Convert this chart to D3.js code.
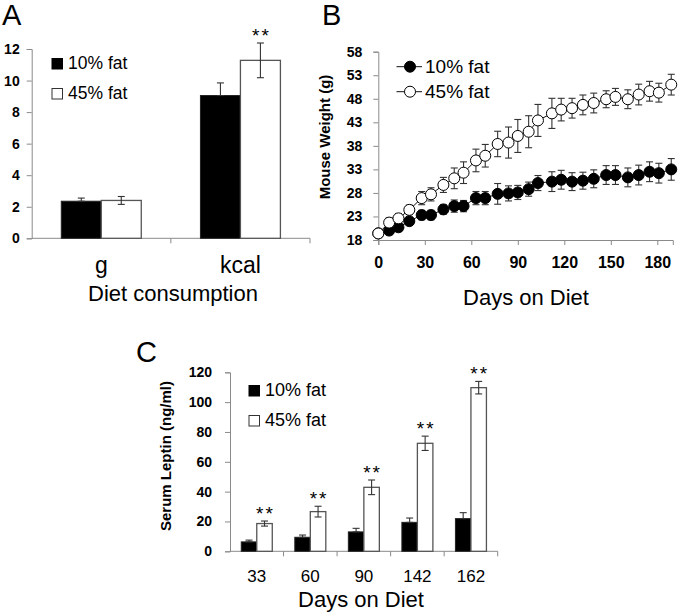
<!DOCTYPE html>
<html>
<head>
<meta charset="utf-8">
<script src="https://cdn.jsdelivr.net/npm/d3@7"></script>
<style>
  html, body { margin: 0; padding: 0; background: #fff; }
  svg { display: block; }
  text { font-family: "Liberation Sans", Arial, sans-serif; fill: #000; }
</style>
</head>
<body>
<svg id="chart" width="679" height="616"></svg>
<script>
// ---------- Data ----------
const seriesNames = ["10% fat", "45% fat"];

// Panel A
const categoriesA = ["g", "kcal"];
const consumption10 = [2.35, 9.05];
const consumption10Err = [0.2, 0.8];
const consumption45 = [2.4, 11.28];
const consumption45Err = [0.25, 1.1];
const significanceA = ["", "**"];
const ticksA = [0, 2, 4, 6, 8, 10, 12];

// Panel B
const daysB = [0, 7, 13, 20, 28, 34, 42, 49, 55, 63, 69, 77, 84, 90, 97, 103, 112, 118, 125, 132, 139, 147, 153, 161, 168, 175, 181, 189];
const weight10 = [19.4, 20.0, 20.7, 22.0, 23.3, 23.3, 24.5, 25.2, 25.2, 26.9, 26.9, 27.8, 27.9, 28.1, 28.8, 30.1, 30.4, 30.8, 30.4, 30.6, 31.0, 31.8, 31.8, 31.3, 31.8, 32.5, 32.2, 33.0];
const weight10Err = [0.3, 0.6, 0.6, 0.8, 1.0, 1.0, 1.0, 1.3, 1.2, 1.4, 1.4, 2.2, 1.6, 1.5, 1.5, 1.6, 2.1, 2.0, 1.9, 1.8, 1.9, 2.0, 2.0, 2.0, 2.1, 2.1, 2.1, 2.3];
const weight45 = [19.4, 21.7, 22.6, 24.4, 26.9, 27.7, 29.7, 31.1, 32.3, 34.9, 35.9, 38.4, 38.7, 40.1, 41.0, 43.4, 44.9, 45.7, 46.0, 46.7, 47.1, 47.9, 48.4, 47.9, 48.9, 49.6, 49.3, 51.0];
const weight45Err = [0.3, 1.0, 1.0, 1.0, 1.4, 1.4, 1.6, 2.2, 2.3, 2.4, 2.4, 2.7, 3.3, 3.5, 3.4, 3.4, 3.2, 2.4, 2.1, 2.1, 2.1, 1.8, 1.8, 2.0, 2.2, 2.1, 2.0, 2.2];
const ticksBx = [0, 30, 60, 90, 120, 150, 180];
const ticksBy = [18, 23, 28, 33, 38, 43, 48, 53, 58];

// Panel C
const categoriesC = ["33", "60", "90", "142", "162"];
const leptin10 = [6.3, 9.4, 13.0, 19.4, 21.9];
const leptin10Err = [1.2, 1.5, 2.4, 2.9, 4.0];
const leptin45 = [18.6, 26.6, 42.9, 72.4, 109.7];
const leptin45Err = [1.7, 3.6, 4.9, 4.8, 4.2];
const significanceC = ["**", "**", "**", "**", "**"];
const ticksC = [0, 20, 40, 60, 80, 100, 120];

// ---------- Styles ----------
const AXIS = "#8a8a8a";
const ERR = "#333";
const svg = d3.select("#chart");

function styleAxis(g) {
  g.select(".domain").attr("stroke", AXIS).attr("stroke-width", 1);
  g.selectAll(".tick line").attr("stroke", AXIS);
  g.selectAll(".tick text").attr("fill", "#000");
}

function errBar(g, x, yTop, yBot, half) {
  g.append("line").attr("x1", x).attr("x2", x).attr("y1", yTop).attr("y2", yBot)
    .attr("stroke", ERR).attr("stroke-width", 1.1);
  g.append("line").attr("x1", x - half).attr("x2", x + half).attr("y1", yTop).attr("y2", yTop)
    .attr("stroke", ERR).attr("stroke-width", 1.1);
  g.append("line").attr("x1", x - half).attr("x2", x + half).attr("y1", yBot).attr("y2", yBot)
    .attr("stroke", ERR).attr("stroke-width", 1.1);
}

function barPanel(opts) {
  const { cats, v10, e10, v45, e45, sig, ticks, yDomain, xRange, yRange, innerPad, catFont, legend } = opts;
  const g = svg.append("g");
  const x0 = d3.scaleBand().domain(cats).range(xRange).padding(0);
  const x1 = d3.scaleBand().domain(seriesNames).range([0, x0.bandwidth()]).paddingInner(0).paddingOuter(innerPad);
  const y = d3.scaleLinear().domain(yDomain).range(yRange);

  // axes
  const yAxis = g.append("g").attr("transform", `translate(${xRange[0]},0)`)
    .call(d3.axisLeft(y).tickValues(ticks).tickSizeOuter(0).tickSize(5).tickPadding(opts.yPad));
  yAxis.selectAll(".tick text").style("font-size", "14px").style("font-weight", "bold");
  styleAxis(yAxis);

  const xAxisG = g.append("g").attr("transform", `translate(0,${yRange[0]})`);
  xAxisG.append("line").attr("x1", xRange[0]).attr("x2", xRange[1]).attr("y1", 0).attr("y2", 0).attr("stroke", AXIS);
  const boundaries = cats.map(c => x0(c)).concat([xRange[1]]);
  xAxisG.selectAll("line.b").data(boundaries.slice(1)).enter().append("line")
    .attr("x1", d => d).attr("x2", d => d).attr("y1", 0).attr("y2", 5).attr("stroke", AXIS);
  xAxisG.selectAll("text.cat").data(cats).enter().append("text")
    .attr("x", d => x0(d) + x0.bandwidth() / 2).attr("y", opts.catY - yRange[0])
    .attr("text-anchor", "middle").style("font-size", catFont).text(d => d);

  const rows = cats.map((c, i) => ({ c, i }));
  const bw = x1.bandwidth();
  // bars
  rows.forEach(({ c, i }) => {
    g.append("rect").attr("x", x0(c) + x1(seriesNames[0])).attr("y", y(v10[i]))
      .attr("width", bw).attr("height", y(0) - y(v10[i]))
      .attr("fill", "#000").attr("stroke", "#222").attr("stroke-width", 1);
    g.append("rect").attr("x", x0(c) + x1(seriesNames[1])).attr("y", y(v45[i]))
      .attr("width", bw).attr("height", y(0) - y(v45[i]))
      .attr("fill", "#fff").attr("stroke", "#555").attr("stroke-width", 1.3);
  });
  // error bars
  rows.forEach(({ c, i }) => {
    const cx1 = x0(c) + x1(seriesNames[0]) + bw / 2;
    const cx2 = x0(c) + x1(seriesNames[1]) + bw / 2;
    errBar(g, cx1, y(v10[i] + e10[i]), y(v10[i]), 3.5);
    errBar(g, cx2, y(v45[i] + e45[i]), y(v45[i] - e45[i]), 3.5);
    if (sig[i]) {
      g.append("text").attr("x", cx2 + 1).attr("y", y(v45[i] + e45[i]) - 1)
        .attr("text-anchor", "middle").style("font-size", "19px").style("letter-spacing", "2px")
        .attr("fill", "#333").text(sig[i]);
    }
  });
  // legend
  legend.forEach((L, k) => {
    g.append("rect").attr("x", L.x).attr("y", L.y - 10.5).attr("width", 10.5).attr("height", 10.5)
      .attr("fill", k === 0 ? "#000" : "#fff").attr("stroke", k === 0 ? "#000" : "#333").attr("stroke-width", 1);
    g.append("text").attr("x", L.x + 16).attr("y", L.y).style("font-size", L.size).text(seriesNames[k]);
  });
  return g;
}

// ---------- Panel A ----------
barPanel({
  cats: categoriesA, v10: consumption10, e10: consumption10Err, v45: consumption45, e45: consumption45Err,
  sig: significanceA, ticks: ticksA, yDomain: [0, 12], xRange: [31.7, 310], yRange: [238.3, 49],
  innerPad: 0.74, catFont: "23px", catY: 273, yPad: 7,
  legend: [{ x: 52, y: 69, size: "17.5px" }, { x: 52, y: 99, size: "17.5px" }]
});
svg.append("text").attr("x", 173).attr("y", 301).attr("text-anchor", "middle").style("font-size", "22px").text("Diet consumption");
svg.append("text").attr("x", 2).attr("y", 25).style("font-size", "29px").text("A");

// ---------- Panel C ----------
barPanel({
  cats: categoriesC, v10: leptin10, e10: leptin10Err, v45: leptin45, e45: leptin45Err,
  sig: significanceC, ticks: ticksC, yDomain: [0, 120], xRange: [230, 497.7], yRange: [551.3, 372.3],
  innerPad: 0.727, catFont: "17px", catY: 582, yPad: 13,
  legend: [{ x: 249, y: 396, size: "18px" }, { x: 249, y: 426, size: "18px" }]
});
svg.append("text").attr("x", 361).attr("y", 607).attr("text-anchor", "middle").style("font-size", "22px").text("Days on Diet");
svg.append("text").attr("transform", "translate(171,456) rotate(-90)").attr("text-anchor", "middle")
  .style("font-size", "15px").style("font-weight", "bold").text("Serum Leptin (ng/ml)");
svg.append("text").attr("x", 136).attr("y", 362).style("font-size", "29px").text("C");

// ---------- Panel B ----------
(function () {
  const g = svg.append("g");
  const x = d3.scaleLinear().domain([0, 190]).range([378.3, 672.8]);
  const y = d3.scaleLinear().domain([18, 58]).range([240, 51.7]);

  const yAxis = g.append("g").attr("transform", "translate(378.3,0)")
    .call(d3.axisLeft(y).tickValues(ticksBy).tickSizeOuter(0).tickSize(5).tickPadding(11));
  yAxis.selectAll(".tick text").style("font-size", "14px").style("font-weight", "bold");
  styleAxis(yAxis);
  const xAxis = g.append("g").attr("transform", "translate(0,240)")
    .call(d3.axisBottom(x).tickValues(ticksBx).tickSizeOuter(0).tickSize(5).tickPadding(12));
  xAxis.selectAll(".tick text").style("font-size", "16px").style("font-weight", "bold");
  styleAxis(xAxis);

  const series = [
    { v: weight10, e: weight10Err, fill: "#000" },
    { v: weight45, e: weight45Err, fill: "#fff" }
  ];
  const line = d3.line().x((d, i) => x(daysB[i])).y(d => y(d));
  series.forEach(s => {
    g.append("path").datum(s.v).attr("d", line).attr("fill", "none").attr("stroke", "#111").attr("stroke-width", 1);
  });
  series.forEach(s => {
    s.v.forEach((v, i) => errBar(g, x(daysB[i]), y(v + s.e[i]), y(v - s.e[i]), 3.5));
  });
  series.forEach(s => {
    g.selectAll(null).data(s.v).enter().append("circle")
      .attr("cx", (d, i) => x(daysB[i])).attr("cy", d => y(d)).attr("r", 5.5)
      .attr("fill", s.fill).attr("stroke", "#000").attr("stroke-width", 1);
  });

  // legend
  const leg = [{ y: 66.7, ty: 73 }, { y: 91.7, ty: 98 }];
  leg.forEach((L, k) => {
    g.append("line").attr("x1", 396.5).attr("x2", 422).attr("y1", L.y).attr("y2", L.y).attr("stroke", "#111");
    g.append("circle").attr("cx", 410).attr("cy", L.y).attr("r", 5.5)
      .attr("fill", series[k].fill).attr("stroke", "#000");
    g.append("text").attr("x", 425).attr("y", L.ty).style("font-size", "19px").text(seriesNames[k]);
  });

  svg.append("text").attr("x", 526).attr("y", 305).attr("text-anchor", "middle").style("font-size", "22px").text("Days on Diet");
  svg.append("text").attr("transform", "translate(330,137) rotate(-90)").attr("text-anchor", "middle")
    .style("font-size", "15px").style("font-weight", "bold").text("Mouse Weight (g)");
  svg.append("text").attr("x", 322).attr("y", 25).style("font-size", "29px").text("B");
})();
</script>
</body>
</html>
